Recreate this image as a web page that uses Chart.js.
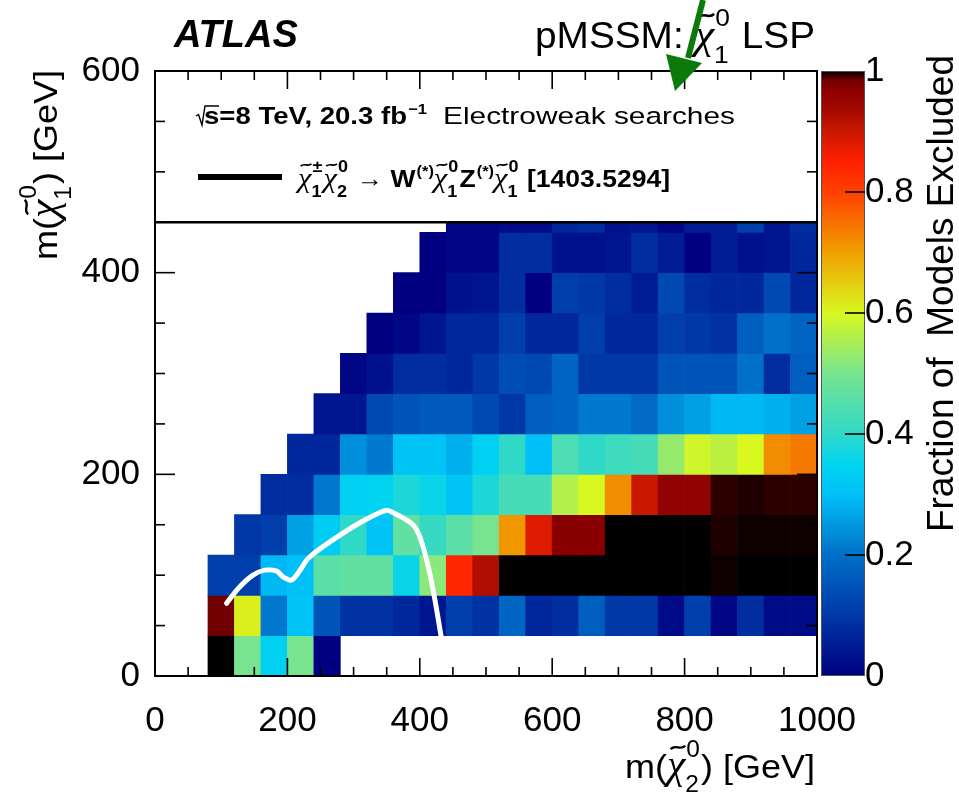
<!DOCTYPE html>
<html>
<head>
<meta charset="utf-8">
<title>pMSSM chi1 LSP - electroweak exclusion</title>
<script src="https://cdn.jsdelivr.net/npm/chart.js@4.4.1/dist/chart.umd.min.js"></script>
<style>
    html, body { margin: 0; padding: 0; background: #ffffff; }
    canvas { display: block; }
</style>
</head>
<body>
<canvas id="exclChart" width="959" height="795"></canvas>
<script>
// bin edges, GeV
const chi2Edges = [80, 120, 160, 200, 240, 280, 320, 360, 400, 440, 480, 520,
    560, 600, 640, 680, 720, 760, 800, 840, 880, 920, 960, 1000];
const chi1Edges = [0, 40, 80, 120, 160, 200, 240, 280, 320, 360, 400, 440, 480];

// fraction of models excluded, one array per m(chi1) row, columns follow chi2Edges
const excl0to40 = [1.0, 0.50, 0.34, 0.50, 0.00, null, null, null, null, null, null, null,
    null, null, null, null, null, null, null, null, null, null, null];
const excl40to80 = [0.985, 0.61, 0.21, 0.31, 0.15, 0.09, 0.09, 0.07, 0.04, 0.11, 0.09, 0.18,
    0.07, 0.08, 0.17, 0.10, 0.10, 0.02, 0.11, 0.01, 0.08, 0.02, 0.02];
const excl80to120 = [0.11, 0.11, 0.29, 0.30, 0.46, 0.47, 0.47, 0.36, 0.52, 0.84, 0.925, 1.0,
    1.0, 1.0, 1.0, 1.0, 1.0, 1.0, 1.0, 0.998, 1.0, 1.0, 1.0];
const excl120to160 = [null, 0.10, 0.11, 0.26, 0.33, 0.40, 0.31, 0.47, 0.41, 0.46, 0.50, 0.71,
    0.88, 0.97, 0.97, 1.0, 1.0, 1.0, 1.0, 0.996, 0.998, 0.998, 0.998];
const excl160to200 = [null, null, 0.08, 0.08, 0.21, 0.34, 0.35, 0.38, 0.36, 0.31, 0.38, 0.43,
    0.43, 0.56, 0.60, 0.72, 0.90, 0.96, 0.96, 0.994, 0.996, 0.994, 0.994];
const excl200to240 = [null, null, null, 0.07, 0.07, 0.24, 0.21, 0.31, 0.31, 0.28, 0.34, 0.40,
    0.30, 0.44, 0.40, 0.42, 0.43, 0.53, 0.59, 0.57, 0.60, 0.72, 0.74];
const excl240to280 = [null, null, null, null, 0.04, 0.04, 0.13, 0.15, 0.16, 0.16, 0.13, 0.10,
    0.17, 0.18, 0.21, 0.21, 0.19, 0.24, 0.26, 0.29, 0.29, 0.28, 0.26];
const excl280to320 = [null, null, null, null, null, 0.01, 0.03, 0.08, 0.08, 0.07, 0.10, 0.14,
    0.13, 0.18, 0.10, 0.10, 0.10, 0.15, 0.15, 0.15, 0.20, 0.08, 0.17];
const excl320to360 = [null, null, null, null, null, null, 0.00, 0.01, 0.04, 0.07, 0.07, 0.11,
    0.07, 0.07, 0.11, 0.07, 0.07, 0.11, 0.10, 0.09, 0.17, 0.20, 0.18];
const excl360to400 = [null, null, null, null, null, null, null, 0.00, 0.00, 0.03, 0.04, 0.08,
    0.00, 0.11, 0.10, 0.08, 0.05, 0.13, 0.08, 0.07, 0.07, 0.13, 0.07];
const excl400to440 = [null, null, null, null, null, null, null, null, 0.00, 0.01, 0.01, 0.08,
    0.08, 0.03, 0.03, 0.04, 0.08, 0.05, 0.00, 0.05, 0.03, 0.04, 0.07];
const excl440to480 = [null, null, null, null, null, null, null, null, null, 0.01, 0.01, 0.02,
    0.02, 0.07, 0.08, 0.03, 0.04, 0.01, 0.05, 0.05, 0.11, 0.04, 0.08];

// 1403.5294 exclusion contour
const contourChi2 = [108, 126, 148, 166, 184, 194, 206, 216, 232, 262, 307, 347, 357, 388, 400, 413, 423, 432];
const contourChi1 = [72, 87, 100, 105, 104, 98, 95, 102, 117, 132, 151, 164, 163, 151, 138, 108, 75, 40];

// axis ticks
const chi2Ticks = [0, 200, 400, 600, 800, 1000];
const chi1Ticks = [0, 200, 400, 600];
const fracTicks = [0, 0.2, 0.4, 0.6, 0.8, 1];
const fracTickLabels = ['0', '0.2', '0.4', '0.6', '0.8', '1'];

// ROOT-like rainbow palette
const PALETTE = [
    [0.00, '#000080'],
    [0.10, '#0038a8'],
    [0.20, '#0070c8'],
    [0.30, '#00c0f8'],
    [0.35, '#00d4f0'],
    [0.40, '#30d8c8'],
    [0.50, '#78e490'],
    [0.60, '#d8f820'],
    [0.70, '#f0a000'],
    [0.80, '#ff4000'],
    [0.85, '#ff2000'],
    [0.90, '#c81800'],
    [0.94, '#a00800'],
    [0.97, '#8a0000'],
    [0.985, '#700000'],
    [1.00, '#000000'],
];

const SANS = '"Liberation Sans", Arial, Helvetica, sans-serif';
const SERIF = '"Liberation Serif", "Times New Roman", serif';

function hexToRgb(hex) {
    const n = parseInt(hex.slice(1), 16);
    return [(n >> 16) & 255, (n >> 8) & 255, n & 255];
}

function fracColor(v) {
    if (v <= PALETTE[0][0]) return PALETTE[0][1];
    for (let i = 1; i < PALETTE.length; i++) {
        const [v1, c1] = PALETTE[i];
        if (v <= v1) {
            const [v0, c0] = PALETTE[i - 1];
            const t = (v - v0) / (v1 - v0);
            const a = hexToRgb(c0);
            const b = hexToRgb(c1);
            const mix = a.map((ch, k) => Math.round(ch + (b[k] - ch) * t));
            return 'rgb(' + mix.join(',') + ')';
        }
    }
    return PALETTE[PALETTE.length - 1][1];
}

const exclRows = [excl0to40, excl40to80, excl80to120, excl120to160, excl160to200, excl200to240,
    excl240to280, excl280to320, excl320to360, excl360to400, excl400to440, excl440to480];

const cells = [];
exclRows.forEach((row, r) => {
    row.forEach((v, c) => {
        if (v === null) return;
        cells.push({
            x: (chi2Edges[c] + chi2Edges[c + 1]) / 2,
            y: [chi1Edges[r], chi1Edges[r + 1]],
            v: v,
        });
    });
});

const contourPoints = contourChi2.map((x, i) => ({ x: x, y: contourChi1[i] }));

// --- text helpers (ROOT latex-ish: chi with tilde, stacked sup/sub) ---
function drawTilde(ctx, x0, x1, yc, amp, lw) {
    const w = x1 - x0;
    ctx.beginPath();
    ctx.moveTo(x0, yc + amp);
    ctx.bezierCurveTo(x0 + w * 0.35, yc - amp * 2.2, x0 + w * 0.65, yc + amp * 2.2, x1, yc - amp);
    ctx.lineWidth = lw;
    ctx.stroke();
}

function drawRich(ctx, items, x0, y0, size, bold, paint) {
    let x = x0;
    const weight = bold ? 'bold ' : '';
    const small = size * 0.68;
    items.forEach((it) => {
        if (it.chi) {
            ctx.font = 'italic ' + (size * 1.15) + 'px ' + SERIF;
            const cw = ctx.measureText('\u03c7').width;
            if (paint) {
                ctx.fillText('\u03c7', x, y0);
                drawTilde(ctx, x + cw * 0.2, x + cw * 1.0, y0 - size * 0.9, size * 0.05, size * 0.07);
            }
            ctx.font = weight + small + 'px ' + SANS;
            const supW = it.sup ? ctx.measureText(it.sup).width : 0;
            const subW = it.sub ? ctx.measureText(it.sub).width : 0;
            if (paint) {
                if (it.sup) ctx.fillText(it.sup, x + cw + 1, y0 - size * 0.62);
                if (it.sub) ctx.fillText(it.sub, x + cw, y0 + size * 0.42);
            }
            x += cw + 2 + Math.max(supW, subW);
        } else if (it.sup) {
            const s = size * (it.scale || 0.62);
            ctx.font = weight + s + 'px ' + SANS;
            if (paint) ctx.fillText(it.sup, x + 1, y0 - size * (it.rise || 0.45));
            x += ctx.measureText(it.sup).width + 1;
        } else {
            const w = it.normal ? '' : weight;
            ctx.font = w + size + 'px ' + SANS;
            if (paint) ctx.fillText(it.t, x, y0);
            x += ctx.measureText(it.t).width;
        }
    });
    return x - x0;
}

// draws the items so they fill exactly targetWidth starting at x
function drawRichFit(ctx, items, x, y, size, bold, targetWidth) {
    const natural = drawRich(ctx, items, 0, 0, size, bold, false);
    ctx.save();
    ctx.translate(x, y);
    ctx.scale(targetWidth / natural, 1);
    drawRich(ctx, items, 0, 0, size, bold, true);
    ctx.restore();
}

function seg(ctx, x0, y0, x1, y1) {
    ctx.beginPath();
    ctx.moveTo(x0, y0);
    ctx.lineTo(x1, y1);
    ctx.stroke();
}

const overlayPlugin = {
    id: 'atlasOverlay',
    afterDraw(chart) {
        const { ctx, chartArea: area, scales } = chart;
        const xs = scales.x;
        const ys = scales.y;
        const cs = scales.cb;

        ctx.save();
        ctx.textAlign = 'left';
        ctx.textBaseline = 'alphabetic';
        ctx.fillStyle = '#000';
        ctx.strokeStyle = '#000';

        // legend box over the top of the frame
        const boxBottom = ys.getPixelForValue(450);
        ctx.fillStyle = '#fff';
        ctx.fillRect(area.left, area.top, area.right - area.left, boxBottom - area.top);
        ctx.fillStyle = '#000';
        ctx.lineWidth = 2.5;
        seg(ctx, area.left, boxBottom, area.right, boxBottom);

        // frame
        ctx.lineWidth = 2;
        ctx.strokeRect(area.left, area.top, area.right - area.left, area.bottom - area.top);

        // inward ticks on all four sides
        ctx.lineWidth = 1.6;
        for (let v = 0; v <= 1000; v += 50) {
            const px = xs.getPixelForValue(v);
            const len = v % 200 === 0 ? 18 : 9;
            seg(ctx, px, area.bottom, px, area.bottom - len);
            seg(ctx, px, area.top, px, area.top + len);
        }
        for (let v = 0; v <= 600; v += 50) {
            const py = ys.getPixelForValue(v);
            const len = v % 200 === 0 ? 20 : 10;
            seg(ctx, area.left, py, area.left + len, py);
            seg(ctx, area.right, py, area.right - len, py);
        }

        // colour bar
        const cbLeft = area.right + 4;
        const cbRight = area.right + 48;
        const p0 = cs.getPixelForValue(0);
        const p1 = cs.getPixelForValue(1);
        const grad = ctx.createLinearGradient(0, p0, 0, p1);
        PALETTE.forEach(([v, c]) => grad.addColorStop(v, c));
        ctx.fillStyle = grad;
        ctx.fillRect(cbLeft, p1, cbRight - cbLeft, p0 - p1);
        ctx.strokeStyle = '#555';
        ctx.lineWidth = 1;
        ctx.strokeRect(cbLeft + 0.5, p1 + 0.5, cbRight - cbLeft - 1, p0 - p1 - 1);
        ctx.strokeStyle = '#000';
        ctx.lineWidth = 1.6;
        fracTicks.slice(1, -1).forEach((v) => {
            const py = cs.getPixelForValue(v);
            seg(ctx, cbRight - 20, py, cbRight, py);
        });

        ctx.fillStyle = '#000';

        // colour bar title
        ctx.save();
        ctx.translate(953, 55);
        ctx.rotate(-Math.PI / 2);
        ctx.textAlign = 'right';
        ctx.font = '37px ' + SANS;
        ctx.fillText('Fraction of  Models Excluded', 0, 0);
        ctx.restore();

        // axis titles
        drawRichFit(ctx, [{ t: 'm(' }, { chi: true, sup: '0', sub: '2' }, { t: ') [GeV]' }],
            625, 778, 34, false, 190);
        ctx.save();
        ctx.translate(57, 70);
        ctx.rotate(-Math.PI / 2);
        drawRichFit(ctx, [{ t: 'm(' }, { chi: true, sup: '0', sub: '1' }, { t: ') [GeV]' }],
            -190, 0, 34, false, 190);
        ctx.restore();

        // labels above the frame
        ctx.font = 'italic bold 38px ' + SANS;
        ctx.fillText('ATLAS', 174, 47);
        drawRichFit(ctx, [{ t: 'pMSSM: ' }, { chi: true, sup: '0', sub: '1' }, { t: ' LSP' }],
            535, 48, 36, false, 280);

        // legend text
        ctx.lineWidth = 1.4;
        ctx.beginPath();
        ctx.moveTo(196, 116);
        ctx.lineTo(198.5, 114.5);
        ctx.lineTo(202, 125);
        ctx.lineTo(205, 106);
        ctx.lineTo(219, 106);
        ctx.stroke();
        drawRichFit(ctx, [{ t: 's=8 TeV, 20.3 fb' }, { sup: '\u22121', rise: 0.42, scale: 0.6 }],
            204, 124, 24.5, true, 223);
        drawRichFit(ctx, [{ t: 'Electroweak searches' }], 443, 124, 24.5, false, 292);

        ctx.lineWidth = 6;
        seg(ctx, 198, 177, 282, 177);
        drawRichFit(ctx, [
            { chi: true, sup: '\u00b1', sub: '1' },
            { chi: true, sup: '0', sub: '2' },
            { t: ' \u2192 ', normal: true },
            { t: 'W' }, { sup: '(*)' },
            { chi: true, sup: '0', sub: '1' },
            { t: 'Z' }, { sup: '(*)' },
            { chi: true, sup: '0', sub: '1' },
            { t: ' [1403.5294]' },
        ], 298, 187, 24.5, true, 372);

        // green annotation arrow
        ctx.strokeStyle = '#0b7a0b';
        ctx.fillStyle = '#0b7a0b';
        ctx.lineWidth = 6;
        seg(ctx, 703, 0, 688, 58);
        ctx.beginPath();
        ctx.moveTo(666, 54);
        ctx.lineTo(702, 63);
        ctx.lineTo(675, 91);
        ctx.closePath();
        ctx.fill();

        ctx.restore();
    },
};

const tickFont = { family: SANS, size: 35 };

new Chart(document.getElementById('exclChart'), {
    type: 'bar',
    data: {
        datasets: [
            {
                type: 'line',
                label: '1403.5294',
                data: contourPoints,
                borderColor: '#ffffff',
                borderWidth: 5,
                pointRadius: 0,
                tension: 0.25,
                fill: false,
                borderCapStyle: 'round',
                borderJoinStyle: 'round',
                order: 0,
            },
            {
                type: 'bar',
                label: 'Fraction of Models Excluded',
                data: cells,
                backgroundColor: (c) => (c.raw ? fracColor(c.raw.v) : '#ffffff'),
                borderWidth: 0,
                barPercentage: 1,
                categoryPercentage: 1,
                order: 1,
            },
        ],
    },
    options: {
        responsive: false,
        animation: false,
        events: [],
        layout: { padding: { top: 71, left: 0, right: 0, bottom: 0 } },
        plugins: {
            legend: { display: false },
            tooltip: { enabled: false },
        },
        scales: {
            x: {
                type: 'linear',
                position: 'bottom',
                min: 0,
                max: 1000,
                offset: false,
                grid: { display: false },
                border: { display: false },
                afterBuildTicks(scale) {
                    scale.ticks = chi2Ticks.map((value) => ({ value }));
                },
                afterFit(scale) {
                    scale.height = 119;
                },
                ticks: {
                    font: tickFont,
                    color: '#000',
                    padding: 16,
                    maxRotation: 0,
                    autoSkip: false,
                    callback: (v) => String(v),
                },
            },
            y: {
                type: 'linear',
                position: 'left',
                min: 0,
                max: 600,
                grid: { display: false },
                border: { display: false },
                afterBuildTicks(scale) {
                    scale.ticks = chi1Ticks.map((value) => ({ value }));
                },
                afterFit(scale) {
                    scale.width = 155;
                },
                ticks: {
                    font: tickFont,
                    color: '#000',
                    padding: 7,
                    autoSkip: false,
                    callback: (v) => String(v),
                },
            },
            cb: {
                type: 'linear',
                position: 'right',
                min: 0,
                max: 1,
                grid: { display: false },
                border: { display: false },
                afterBuildTicks(scale) {
                    scale.ticks = fracTicks.map((value) => ({ value }));
                },
                afterFit(scale) {
                    scale.width = 142;
                },
                ticks: {
                    font: tickFont,
                    color: '#000',
                    padding: 40,
                    autoSkip: false,
                    callback: (v, i) => fracTickLabels[i],
                },
            },
        },
    },
    plugins: [overlayPlugin],
});
</script>
</body>
</html>
